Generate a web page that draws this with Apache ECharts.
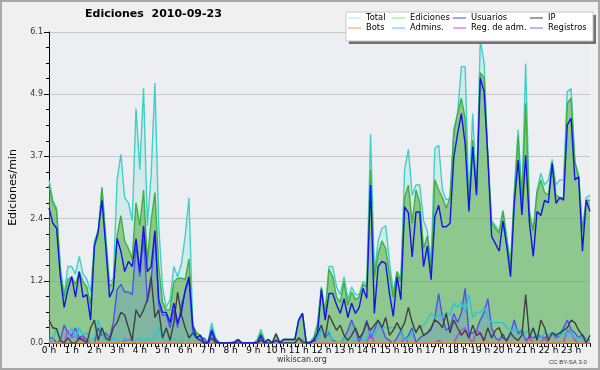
<!DOCTYPE html>
<html>
<head>
<meta charset="utf-8">
<script src="https://cdn.jsdelivr.net/npm/echarts@6/dist/echarts.min.js"></script>
<style>
html,body{margin:0;padding:0;background:#f0f0f0;}
#chart{width:600px;height:370px;}
</style>
</head>
<body>
<div id="chart"></div>
<script>
// ---- data (10-minute steps, 144 per day) ----
const hourLabels = ['0 h','1 h','2 h','3 h','4 h','5 h','6 h','7 h','8 h','9 h','10 h','11 h','12 h','13 h','14 h','15 h','16 h','17 h','18 h','19 h','20 h','21 h','22 h','23 h'];
const yTickLabels = ['0.0','1.2','2.4','3.7','4.9','6.1'];

const total = [
3.2,2.8,2.65,1.5,0.95,1.5,1.5,1.35,1.7,1.35,1.25,1.0,
2.0,2.2,3.05,2.1,1.2,1.25,3.2,3.7,2.85,2.75,2.4,4.6,
3.4,5.0,2.3,3.3,5.1,2.3,1.1,0.7,0.85,1.5,1.3,1.55,
2.1,2.85,0.35,0.2,0.15,0.05,0,0.4,0.1,0,0,0,
0,0.03,0.07,0,0,0,0,0.05,0.27,0.05,0.07,0,
0.18,0.02,0.07,0.07,0.07,0.07,0.45,0.58,0.02,0.02,0.12,0.4,
1.1,0.6,1.5,1.5,1.1,0.95,1.3,0.85,1.1,0.95,0.95,1.2,
1.15,4.1,1.35,2.0,2.25,2.3,1.6,1.0,1.4,1.25,3.4,3.8,
2.9,3.1,3.1,2.4,2.2,1.6,3.82,3.88,3.0,2.8,2.85,4.2,
4.5,5.42,5.42,2.8,4.5,2.95,5.94,5.5,3.65,2.4,2.3,2.2,
2.6,2.1,1.55,3.0,4.18,2.85,5.48,2.6,2.2,3.0,3.33,3.1,
3.2,3.6,3.1,3.2,3.2,4.93,4.99,3.55,3.3,2.2,2.85,2.9];

const ediciones = [
3.1,2.75,2.6,1.4,0.9,1.25,1.3,1.15,1.4,1.2,1.1,0.75,
1.9,2.1,3.05,2.0,1.1,1.2,2.1,2.5,2.0,1.85,1.65,2.75,
2.3,3.0,1.6,2.4,2.95,1.5,0.8,0.65,0.65,1.2,1.27,1.27,
1.25,1.65,0.35,0.2,0.15,0.05,0,0.3,0.1,0,0,0,
0,0.03,0.07,0,0,0,0,0.05,0.2,0.03,0.07,0,
0.18,0.02,0.07,0.07,0.07,0.07,0.45,0.58,0.02,0.02,0.1,0.35,
1.08,0.55,1.45,1.3,0.9,0.8,1.2,0.75,1.0,0.85,0.9,1.15,
1.1,3.4,1.3,1.75,2.0,1.85,1.35,0.9,1.4,1.2,2.85,3.1,
2.35,3.0,2.75,1.85,2.1,1.45,3.2,3.0,2.85,2.65,2.85,4.1,
4.5,4.8,4.4,2.7,3.98,2.95,5.3,5.2,3.65,2.35,2.25,2.15,
2.58,2.0,1.5,2.9,4.05,2.75,4.7,2.5,2.2,2.95,3.2,2.95,
2.9,3.55,2.9,2.85,2.85,4.7,4.8,3.55,3.25,2.2,2.8,2.8];

const usuarios = [
2.65,2.35,2.25,1.3,0.7,1.05,1.3,0.9,1.4,0.9,0.95,0.45,
1.9,2.2,2.8,1.9,0.9,1.05,2.05,1.8,1.4,1.6,1.5,2.05,
1.4,2.3,1.4,1.5,2.2,0.85,0.6,0.6,0.4,0.78,0.39,0.6,
1.04,1.3,0.33,0.1,0.15,0,0,0.25,0.05,0,0,0,
0,0,0.07,0,0,0,0,0,0.15,0,0.07,0,
0.05,0,0.07,0.07,0.07,0.07,0.45,0.58,0,0,0.05,0.2,
1.05,0.45,0.97,0.97,0.75,0.58,0.87,0.5,0.78,0.58,0.7,1.07,
0.88,3.1,0.58,1.5,1.6,1.56,0.97,0.52,1.3,0.85,2.67,2.55,
1.69,2.57,2.57,1.5,1.9,1.24,2.48,2.7,2.28,2.28,2.35,3.65,
4.1,4.5,3.9,2.58,3.85,2.9,5.2,4.93,3.65,2.09,1.95,1.8,
2.39,1.9,1.3,2.74,3.59,2.51,3.68,2.35,1.7,2.58,2.5,2.8,
2.75,3.52,2.74,2.85,2.8,4.28,4.41,3.2,3.26,1.8,2.8,2.58];

const ip = [
0.45,0.3,0.28,0.05,0,0.1,0,0,0.1,0.05,0,0.3,
0.45,0.05,0.3,0.1,0.05,0.3,0.4,0.6,0.55,0.3,0.05,0.65,
0.5,0.65,0.85,1.3,0.5,0.65,0.1,0.3,0.05,0.4,1.0,0.55,
0.3,0.1,0.2,0.1,0.05,0,0,0.1,0,0,0,0,
0,0,0,0,0,0,0,0,0.05,0,0,0,
0.18,0,0,0,0,0,0.1,0,0,0,0.05,0.2,
0.35,0.1,0.55,0.4,0.25,0.35,0.15,0.05,0.15,0.3,0.1,0.2,
0.4,0.25,0.35,0.45,0.3,0.5,0.15,0.25,0.4,0.25,0.4,0.7,
0.4,0.2,0.35,0.15,0.2,0.3,0.45,0.4,0.3,0.58,0.2,0.45,
0.3,0.15,0.25,0.1,0.35,0.15,0.2,0.05,0.3,0.1,0.25,0.3,
0.1,0.05,0.2,0.1,0.05,0.15,0.95,0.1,0.3,0.05,0.45,0.3,
0.05,0.2,0.15,0.2,0.25,0.3,0.45,0.4,0.25,0.15,0,0.15];

const bots = new Array(144).fill(0);

const admins = [
0.05,0.05,0.3,0.05,0,0.1,0.3,0.1,0.3,0.15,0.2,0.05,
0.1,0.45,0.2,0.05,0,0.1,0.05,0,0.1,0.05,0,0.05,
0.1,0,0.1,0.05,0.1,0.3,0.1,0,0.05,0.1,0,0.05,
0,0.05,0.2,0.05,0.1,0,0,0.3,0.05,0,0,0,
0,0,0,0,0,0,0,0,0.15,0,0,0,
0,0,0,0,0,0,0,0,0,0,0.05,0.1,
0.3,0.1,0.25,0.02,0.02,0,0.1,0,0,0.05,0,0.05,
0.1,0.25,0.15,0.3,0.35,0.3,0.3,0.3,0.3,0.3,0.05,0.1,
0.2,0.25,0.3,0.35,0.45,0.58,0.5,0.55,0.5,0.6,0.55,0.78,
0.7,0.8,0.6,0.95,0.5,0.6,0.6,0.7,0.5,0.4,0.4,0.4,
0.4,0.3,0.25,0.25,0.25,0.25,0.2,0.25,0.25,0.15,0.1,0.2,
0.15,0.2,0.2,0.15,0.2,0.2,0.2,0.1,0.1,0.06,0.06,0.06];

const regAdm = [
0,0,0,0,0,0.25,0.1,0.15,0.05,0.1,0,0,
0,0,0,0,0,0,0,0,0.05,0.07,0.05,0,
0,0,0,0,0,0,0,0,0,0,0,0,
0,0,0,0,0,0,0,0,0,0,0,0,
0,0,0,0,0,0,0,0,0,0,0,0,
0,0,0,0,0,0,0,0,0,0,0,0,
0,0,0,0,0,0,0,0,0,0,0,0,
0,0.2,0,0,0,0,0,0,0,0,0.1,0,
0,0,0,0,0,0,0,0.05,0,0,0,0,
0.15,0.25,0.3,0.1,0,0.25,0.2,0,0,0,0,0,
0,0,0,0,0,0,0,0.1,0,0,0,0.1,
0,0,0,0,0,0.25,0.2,0.05,0,0,0,0];

const registros = [
0.1,0.1,0,0.05,0.35,0.2,0.15,0.3,0.1,0.15,0.05,0,
0,0.3,0.15,0.2,0.1,0.4,1.05,1.15,1.0,1.0,0.95,1.9,
1.3,2.1,0.8,1.2,2.2,0.75,0.55,0.55,0.3,0.65,0.3,0.75,
1.0,1.25,0.2,0.1,0.05,0.1,0,0.2,0,0,0,0,
0,0,0.05,0,0,0,0,0,0.1,0,0,0,
0,0,0,0,0,0,0.1,0.05,0,0,0,0.1,
0.3,0.1,0.2,0.05,0.02,0,0.1,0.25,0.45,0.25,0.02,0.2,
0.45,0.1,0.25,0.45,0.3,0.1,0.05,0,0.1,0.25,0.05,0.15,
0.3,0,0.1,0.15,0.2,0.25,0.5,0.97,0.5,0.25,0.3,0.58,
0.4,0.6,1.07,0.18,0.2,0.25,0.45,0.6,0.87,0.3,0.1,0.05,
0.18,0.03,0.2,0.45,0.18,0.26,0.05,0.13,0.1,0.15,0.13,0.1,
0.15,0.2,0.1,0.15,0.3,0.45,0.26,0.2,0.1,0.17,0.06,0.06];

// ---- build ----
const cats = [];
for (let i = 0; i < total.length; i++) cats.push(i % 6 === 0 ? hourLabels[i / 6] : '');

const FONT = 'DejaVu Sans';
const colors = {
  'Total': '#40d0c8', 'Ediciones': '#40b040', 'Usuarios': '#1414e6', 'IP': '#404040',
  'Bots': '#f0a030', 'Admins.': '#28c4dc', 'Reg. de adm.': '#c040e0', 'Registros': '#5050f0'
};
const legendColors = {
  'Total': '#a8e8e0', 'Ediciones': '#90d890', 'Usuarios': '#4848e8', 'IP': '#404040',
  'Bots': '#f0a040', 'Admins.': '#48cce0', 'Reg. de adm.': '#c848e8', 'Registros': '#7070f0'
};

function line(name, data, z, area) {
  const s = {
    name, type: 'line', data, symbol: 'none', z, animation: false,
    lineStyle: { color: colors[name], width: 1.4 },
    itemStyle: { color: colors[name] }
  };
  if (area) s.areaStyle = { color: area, opacity: 1 };
  return s;
}

const legendCols = [['Total','Bots'],['Ediciones','Admins.'],['Usuarios','Reg. de adm.'],['IP','Registros']];
const legendLeft = [348, 392, 453, 530];

const chart = echarts.init(document.getElementById('chart'), null, { renderer: 'canvas', width: 600, height: 370 });
chart.setOption({
  backgroundColor: '#f0f0f0',
  animation: false,
  title: {
    text: 'Ediciones  2010-09-23', left: 85, top: 9, padding: 0,
    textStyle: { fontFamily: FONT, fontSize: 11, fontWeight: 'bold', color: '#000' }
  },
  legend: legendCols.map((col, k) => ({
    data: col.map(n => ({ name: n, itemStyle: { color: legendColors[n] } })),
    left: legendLeft[k], top: 13, orient: 'vertical', itemGap: 0,
    itemWidth: 13, itemHeight: 1, icon: 'rect', padding: 0, selectedMode: false, z: 10,
    textStyle: { fontFamily: FONT, fontSize: 8.4, color: '#000', lineHeight: 10 }
  })),
  grid: { left: 45, right: 10, top: 32, bottom: 27, show: true, backgroundColor: '#edeef1', borderWidth: 0 },
  xAxis: {
    type: 'category', data: cats, boundaryGap: false,
    axisLine: { lineStyle: { color: '#000', width: 1 } },
    axisTick: { show: true, interval: 0, length: 4, lineStyle: { color: '#000' } },
    axisLabel: { interval: 0, margin: 3, fontFamily: FONT, fontSize: 9, color: '#000',
      formatter: v => v },
    splitLine: { show: false }
  },
  yAxis: {
    type: 'value', min: 0, max: 6.1, interval: 1.22,
    name: 'Ediciones/min', nameLocation: 'middle', nameGap: 30,
    nameTextStyle: { fontFamily: FONT, fontSize: 11, color: '#000' },
    axisLine: { show: true, lineStyle: { color: '#000', width: 1 } },
    axisTick: { show: true, length: 5, lineStyle: { color: '#000' } },
    minorTick: { show: true, splitNumber: 4, length: 3, lineStyle: { color: '#000' } },
    axisLabel: { margin: 6, fontFamily: FONT, fontSize: 8, color: '#333',
      formatter: (v) => yTickLabels[Math.round(v / 1.22)] },
    splitLine: { show: true, lineStyle: { color: '#c8c8c8', width: 1 } }
  },
  graphic: [
    { type: 'rect', shape: { x: 1, y: 1, width: 598, height: 368 }, style: { fill: 'none', stroke: '#a8a8a8', lineWidth: 2 }, z: 100 },
    { type: 'rect', shape: { x: 349, y: 15, width: 247, height: 29 }, style: { fill: '#707070' }, z: 8 },
    { type: 'rect', shape: { x: 346, y: 12, width: 247, height: 29 }, style: { fill: '#ffffff', stroke: '#c8c8c8', lineWidth: 1 }, z: 9 },
    { type: 'text', left: 277, top: 356, style: { text: 'wikiscan.org', font: '8px "DejaVu Sans"', fill: '#333' }, z: 10 },
    { type: 'text', left: 549, top: 359, style: { text: 'CC BY-SA 3.0', font: '6px "Liberation Sans"', fill: '#333' }, z: 10 }
  ],
  series: [
    line('Total', total, 2, 'rgba(64,208,192,0.15)'),
    line('Ediciones', ediciones, 3, 'rgba(80,170,60,0.52)'),
    line('Registros', registros, 4, 'rgba(93,147,200,0.32)'),
    line('Reg. de adm.', regAdm, 5),
    line('Admins.', admins, 5),
    line('Bots', bots, 5),
    line('IP', ip, 6),
    line('Usuarios', usuarios, 7)
  ]
});
</script>
</body>
</html>
